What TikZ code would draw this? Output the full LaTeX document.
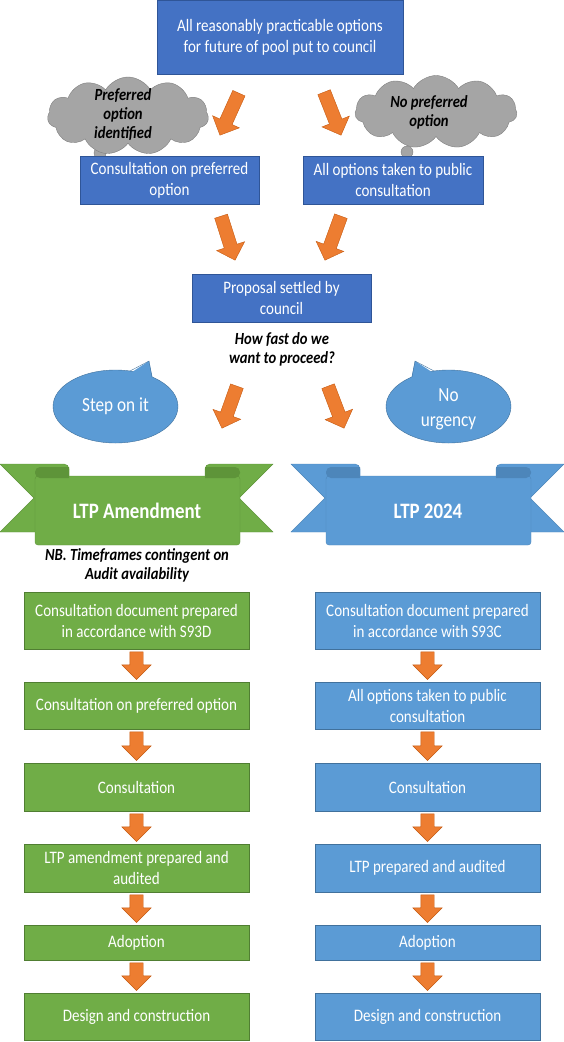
\documentclass[tikz,border=0pt]{standalone}
\usepackage{fontspec}
\setmainfont{Carlito}[FakeStretch=0.86]
\usepackage{tikz}
\usetikzlibrary{shapes.geometric, shapes.symbols, shapes.arrows, calc}
\definecolor{poolblue}{HTML}{4472C4}
\definecolor{poolblueline}{HTML}{2F5597}
\definecolor{lowblue}{HTML}{5B9BD5}
\definecolor{lowblueline}{HTML}{41719C}
\definecolor{ltpgreen}{HTML}{70AD47}
\definecolor{ltpgreenline}{HTML}{507E32}
\definecolor{ltpgreendk}{HTML}{5E9439}
\definecolor{ltpbluedk}{HTML}{4D86BA}
\definecolor{arroworange}{HTML}{ED7D31}
\definecolor{arrowline}{HTML}{C55A11}
\definecolor{cloudgrey}{HTML}{A5A5A5}
\definecolor{cloudline}{HTML}{7F7F7F}
\newcommand{\boxfont}{\fontsize{17.5}{21}\selectfont}
\newcommand{\notefont}{\fontsize{17}{19}\selectfont\bfseries\itshape}
\newcommand{\bubblefont}{\fontsize{20}{25}\selectfont}
\newcommand{\ribfont}{\fontsize{22}{26}\selectfont\bfseries}
\tikzstyle{topbox} = [rectangle, draw=poolblueline, fill=poolblue, text=white, align=center, inner sep=0pt, font=\boxfont]
\tikzstyle{greenbox} = [rectangle, draw=ltpgreenline, fill=ltpgreen, text=white, align=center, inner sep=0pt, minimum width=225pt, font=\boxfont]
\tikzstyle{bluebox} = [rectangle, draw=lowblueline, fill=lowblue, text=white, align=center, inner sep=0pt, minimum width=225pt, font=\boxfont]
\tikzstyle{note} = [align=center, inner sep=0pt, font=\notefont]
\tikzstyle{thought} = [cloud, cloud puffs=11, cloud puff arc=120, aspect=2.1, draw=cloudline, fill=cloudgrey, inner sep=0pt]
\tikzstyle{puff} = [draw=cloudline, fill=cloudgrey]
\tikzstyle{bubble} = [ellipse, draw=lowblueline, fill=lowblue, text=white, align=center, inner sep=0pt, font=\bubblefont]
\tikzstyle{ribtext} = [text=white, inner sep=0pt, font=\ribfont]
\tikzstyle{fat} = [single arrow, draw=arrowline, fill=arroworange, line width=.4pt, inner xsep=0pt, inner ysep=6.5pt, minimum width=1pt, single arrow head extend=8pt, single arrow tip angle=90, single arrow head indent=0pt]
\newcommand{\fatarrow}[3]{\path let \p1=(#2), \p2=(#3), \n1={atan2(\y2-\y1,\x2-\x1)}, \n2={veclen(\x2-\x1,\y2-\y1)} in node[fat, minimum height=\n2, rotate=\n1, anchor=tail] (#1) at (\p1) {};}

\begin{document}
\begin{tikzpicture}[x=1pt, y=-1pt]
	\useasboundingbox (0,0) rectangle (564,1042);
	% options put to council
	\node[topbox, minimum width=246pt, minimum height=74pt] (opts) at (280,37) {All reasonably practicable options\\for future of pool put to council};
	% thought clouds
	\draw[puff] (100,153) circle (6pt);
	\draw[puff] (407,152) circle (6pt);
	\node[thought, minimum width=161pt, minimum height=78pt] (prefcloud) at (128,116) {};
	\node[thought, minimum width=162pt, minimum height=73pt] (nocloud) at (436,112) {};
	\node[note] (preftxt) at (123,115) {Preferred\\option\\identified};
	\node[note] (notxt) at (429,112) {No preferred\\option};
	\node[topbox, minimum width=179pt, minimum height=48pt] (prefcons) at (169.5,180) {Consultation on preferred\\option};
	\node[topbox, minimum width=180pt, minimum height=48pt] (allpub) at (393,180) {All options taken to public\\consultation};
	\node[topbox, minimum width=179pt, minimum height=48pt] (settled) at (281.5,298) {Proposal settled by\\council};
	\node[note] (ask) at (282,349) {How fast do we\\want to proceed?};
	% speech bubbles
	\node[bubble, minimum width=125pt, minimum height=73pt] (stepit) at (115.5,406.5) {Step on it};
	\fill[lowblue] (129,374) -- (149,361) -- (153,380) -- cycle;
	\draw[lowblueline] (130,371) -- (149,361) -- (152,377);
	\node[bubble, minimum width=125pt, minimum height=73pt] (nourg) at (448.5,406.5) {\strut No\\urgency};
	\fill[lowblue] (435,374) -- (415,361) -- (411,380) -- cycle;
	\draw[lowblueline] (434,371) -- (415,361) -- (412,377);
	% ribbons
	\foreach \rx/\fc/\dc/\nm/\txt in {0/ltpgreen/ltpgreendk/ltpa/LTP Amendment, 291/lowblue/ltpbluedk/ltpb/LTP 2024}
	{
		\begin{scope}[xshift=\rx]
			\filldraw[fill=\fc, draw=\dc, line width=.4pt] (34,498) -- (0,464) [rounded corners=5pt] -- (69,464) [sharp corners] -- (69,532) -- (0,532) -- cycle;
			\filldraw[fill=\fc, draw=\dc, line width=.4pt] (239,498) -- (273,464) [rounded corners=5pt] -- (205,464) [sharp corners] -- (205,532) -- (273,532) -- cycle;
			\filldraw[fill=\fc, draw=\dc, line width=.4pt, rounded corners=3pt] (35,476) rectangle (240,545);
			\fill[\dc] (69,467) [rounded corners=5pt] -- (35,467) -- (35,478) [sharp corners] -- (69,478) -- cycle;
			\fill[\dc] (205,467) [rounded corners=5pt] -- (240,467) -- (240,478) [sharp corners] -- (205,478) -- cycle;
			\node[ribtext] (\nm) at (137,511) {\txt};
		\end{scope}
	}
	\node[note] (nb) at (137,565) {NB. Timeframes contingent on\\Audit availability};
	% the two routes
	\foreach \i/\yy/\hh/\gtxt/\btxt in {
		1/620.5/57/{Consultation document prepared\\in accordance with S93D}/{Consultation document prepared\\in accordance with S93C},
		2/705.5/47/{Consultation on preferred option}/{All options taken to public\\consultation},
		3/787/48/{Consultation}/{Consultation},
		4/868/48/{LTP amendment prepared and\\audited}/{LTP prepared and audited},
		5/942.5/35/{Adoption}/{Adoption},
		6/1016.5/47/{Design and construction}/{Design and construction}}
	{
		\node[greenbox, minimum height=\hh] (g\i) at (136.5,\yy) {\gtxt};
		\node[bluebox, minimum height=\hh] (b\i) at (427.5,\yy) {\btxt};
	}
	\foreach \i/\j in {1/2,2/3,3/4,4/5,5/6}
	{
		\fatarrow{ga\i}{$(g\i.south)+(0,2.5)$}{$(g\j.north)+(0,-2.5)$}
		\fatarrow{ba\i}{$(b\i.south)+(0,2.5)$}{$(b\j.north)+(0,-2.5)$}
	}
	% slanted arrows
	\coordinate (s1) at (239,93);  \coordinate (t1) at (220,135);
	\coordinate (s2) at (324,92);  \coordinate (t2) at (341,135);
	\coordinate (s3) at (221,216); \coordinate (t3) at (235,260);
	\coordinate (s4) at (341,216); \coordinate (t4) at (325,260);
	\coordinate (s5) at (237,386); \coordinate (t5) at (222,428);
	\coordinate (s6) at (328,386); \coordinate (t6) at (344,428);
	\foreach \k in {1,...,6}
	{
		\fatarrow{da\k}{s\k}{t\k}
	}
\end{tikzpicture}
\end{document}
